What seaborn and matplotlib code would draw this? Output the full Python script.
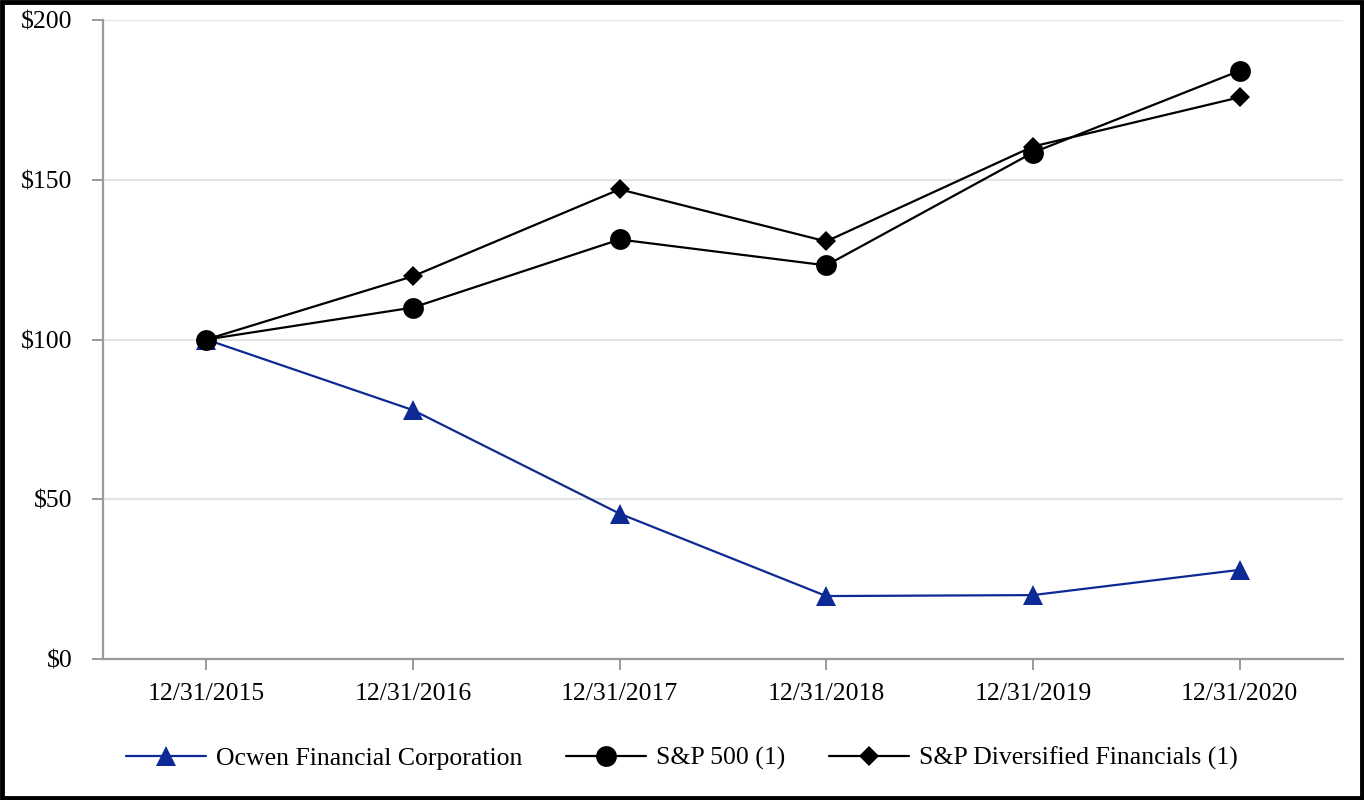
import matplotlib
matplotlib.use("Agg")
import matplotlib.pyplot as plt
import seaborn as sns
import pandas as pd
from matplotlib.patches import Rectangle
from matplotlib.lines import Line2D
from matplotlib.ticker import FuncFormatter

dates = ["12/31/2015", "12/31/2016", "12/31/2017", "12/31/2018", "12/31/2019", "12/31/2020"]
ocwen = [100, 77.9, 45.5, 19.7, 20.0, 27.9]
sp500 = [100, 110.0, 131.3, 123.2, 158.5, 184.1]
spdf = [100, 119.8, 147.0, 130.7, 160.4, 175.8]
series_names = ["Ocwen Financial Corporation", "S&P 500 (1)", "S&P Diversified Financials (1)"]
yticks = [0, 50, 100, 150, 200]

sns.set_theme(style="white")
plt.rcParams["font.family"] = ["Liberation Serif", "DejaVu Serif"]
plt.rcParams["text.color"] = "black"

fig = plt.figure(figsize=(13.64, 8.0), dpi=100)
ax = fig.add_axes([0.0755, 0.17625, 0.909, 0.79875])

x = list(range(len(dates)))
blue = "#0d2a94"
styles = [
    (ocwen, blue, "^", 14.0),
    (sp500, "black", "o", 15.0),
    (spdf, "black", "D", 10.0),
]
for vals, col, mk, ms in styles:
    df = pd.DataFrame({"x": x, "y": vals})
    sns.lineplot(data=df, x="x", y="y", ax=ax, color=col, marker=mk, markersize=ms,
                 markeredgewidth=0, linewidth=1.6, zorder=3)

ax.set_xlim(-0.5, 5.5)
ax.set_ylim(0, 200)
ax.set_xticks(x)
ax.set_xticklabels(dates)
ax.set_yticks(yticks)
ax.yaxis.set_major_formatter(FuncFormatter(lambda v, p: f"${v:.0f}"))
ax.set_xlabel("")
ax.set_ylabel("")

for s in ["top", "right"]:
    ax.spines[s].set_visible(False)
for s in ["left", "bottom"]:
    ax.spines[s].set_color("#9a9a9a")
    ax.spines[s].set_linewidth(1.6)

ax.grid(axis="y", color="#e3e3e3", linewidth=1.5)
ax.set_axisbelow(True)
ax.tick_params(axis="both", which="major", length=8, width=1.4, color="#9a9a9a",
               labelsize=18.5, labelcolor="black", direction="out")
ax.tick_params(axis="y", pad=14)
ax.tick_params(axis="x", pad=9)
ax.tick_params(bottom=True, left=True)

handles = [
    Line2D([0], [0], color=blue, marker="^", markersize=14.0, markeredgewidth=0, linewidth=1.6),
    Line2D([0], [0], color="black", marker="o", markersize=15.0, markeredgewidth=0, linewidth=1.6),
    Line2D([0], [0], color="black", marker="D", markersize=10.0, markeredgewidth=0, linewidth=1.6),
]
leg = fig.legend(handles, series_names, loc="center", bbox_to_anchor=(0.5, 0.052), ncol=3,
                 frameon=False, fontsize=18.5, handlelength=3.1, handletextpad=0.4,
                 columnspacing=1.7)
for t in leg.get_texts():
    t.set_color("black")

fig.patches.append(Rectangle((0.0015, 0.002), 0.997, 0.996, transform=fig.transFigure,
                             fill=False, edgecolor="black", linewidth=3.5, zorder=10))

fig.savefig("out.png", dpi=100)
